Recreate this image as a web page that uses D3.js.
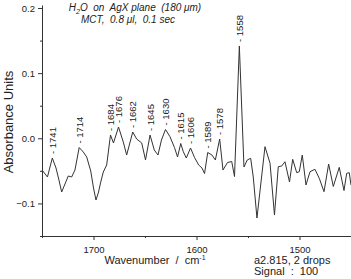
<!DOCTYPE html>
<html>
<head>
<meta charset="utf-8">
<script src="https://cdn.jsdelivr.net/npm/d3@7"></script>
<style>
  body { margin: 0; background: #fff; }
  svg { display: block; font-family: "Liberation Sans", Arial, sans-serif; }
  svg text { white-space: pre; }
  .axis path, .axis line { stroke: #333; }
  .axis text { fill: #222; font-size: 9.5px; }
  .spectrum { fill: none; stroke: #333; stroke-width: 1; }
</style>
</head>
<body>
<script>
// spectrum: wavenumber (cm-1) / absorbance
var wavenumbers = [1750.0, 1744.7, 1740.0, 1736.4, 1734.0, 1730.9, 1727.7, 1724.5, 1721.2, 1718.0,
    1713.9, 1709.9, 1706.6, 1702.7, 1700.0, 1697.6, 1695.1, 1693.2, 1690.5, 1687.2,
    1683.5, 1680.6, 1675.7, 1671.1, 1667.8, 1661.9, 1658.1, 1653.2, 1649.5, 1645.1,
    1641.0, 1637.4, 1634.0, 1630.1, 1625.7, 1621.4, 1618.4, 1615.3, 1612.8, 1609.9,
    1605.8, 1601.9, 1597.9, 1594.7, 1592.2, 1589.1, 1585.0, 1581.7, 1577.5, 1574.3,
    1569.9, 1565.8, 1563.1, 1558.4, 1553.9, 1550.7, 1547.4, 1544.9, 1541.3, 1533.5,
    1528.6, 1524.3, 1520.6, 1517.3, 1514.1, 1509.7, 1506.6, 1502.7, 1500.2, 1497.3,
    1493.7, 1489.8, 1485.0, 1480.8, 1476.2, 1471.7, 1467.2, 1461.4, 1456.8, 1454.2,
    1451.7, 1450.0];
var absorbance = [-0.0487, -0.0594, -0.0303, -0.0456, -0.0610, -0.0825, -0.0702, -0.0579, -0.0594, -0.0487,
    -0.0142, -0.0211, -0.0287, -0.0502, -0.0763, -0.0948, -0.0825, -0.0687, -0.0518, -0.0410,
    0.0050, -0.0072, 0.0173, -0.0057, -0.0257, 0.0096, -0.0011, -0.0072, -0.0333, 0.0050,
    -0.0180, -0.0257, -0.0026, 0.0135, 0.0024, -0.0142, -0.0287, -0.0080, -0.0206, -0.0303,
    -0.0149, -0.0295, -0.0410, -0.0456, -0.0541, -0.0218, -0.0257, -0.0333, -0.0011, -0.0487,
    -0.0372, -0.0357, -0.0587, 0.1417, -0.0441, -0.0333, -0.0307, -0.0594, -0.1224, -0.0129,
    -0.0384, -0.1178, -0.0436, -0.0426, -0.0360, -0.0671, -0.0323, -0.0528, -0.0513, -0.0257,
    -0.0717, -0.0513, -0.0476, -0.0614, -0.0820, -0.0395, -0.0740, -0.0446, -0.0802, -0.0538,
    -0.0528, -0.0717];

// labelled peaks
var peakLabels = ["1741", "1714", "1684", "1676", "1662", "1645", "1630", "1615", "1606", "1589", "1578", "1558"];
var peakIndex = [2, 10, 20, 22, 25, 29, 33, 37, 40, 45, 48, 53];

var xMajorTicks = [1700, 1600, 1500];
var xMinorTicks = [1750, 1650, 1550, 1450];
var yMajorTicks = [0.2, 0.1, 0.0, -0.1];
var yMinorTicks = [0.15, 0.05, -0.05, -0.15];

var margin = {top: 5, right: 0, bottom: 43, left: 42},
    width = 351 - margin.left - margin.right,
    height = 279 - margin.top - margin.bottom;

var data = wavenumbers.map(function (w, i) { return {wn: w, a: absorbance[i]}; });

var svg = d3.select("body").append("svg")
    .attr("width", width + margin.left + margin.right)
    .attr("height", height + margin.top + margin.bottom)
    .append("g")
    .attr("transform", "translate(" + margin.left + "," + margin.top + ")");

var x = d3.scaleLinear().domain([1750, 1450]).range([0, width]);
var y = d3.scaleLinear().domain([-0.15, 0.2046]).range([height, 0]);

// axes: minor ticks first, then the labelled ones
svg.append("g")
    .attr("class", "axis")
    .attr("transform", "translate(0," + height + ")")
    .call(d3.axisBottom(x).tickValues(xMinorTicks).tickSize(2).tickFormat(""))
    .select(".domain").remove();
svg.append("g")
    .attr("class", "axis")
    .attr("transform", "translate(0," + height + ")")
    .call(d3.axisBottom(x).tickValues(xMajorTicks).tickSize(4).tickSizeOuter(0).tickPadding(6)
        .tickFormat(d3.format("d")));

svg.append("g")
    .attr("class", "axis")
    .call(d3.axisLeft(y).tickValues(yMinorTicks).tickSize(2).tickFormat(""))
    .select(".domain").remove();
svg.append("g")
    .attr("class", "axis")
    .call(d3.axisLeft(y).tickValues(yMajorTicks).tickSize(4).tickSizeOuter(0).tickPadding(3)
        .tickFormat(d3.format(".1f")));

var line = d3.line()
    .x(function (d) { return x(d.wn); })
    .y(function (d) { return y(d.a); });

svg.append("path")
    .datum(data)
    .attr("class", "spectrum")
    .attr("d", line);

// peak labels, rotated
svg.selectAll(".peak")
    .data(peakIndex)
    .enter().append("text")
    .attr("class", "peak")
    .attr("transform", function (d) {
        return "translate(" + (x(data[d].wn) + 3.5) + "," + (y(data[d].a) - 4) + ") rotate(-90)";
    })
    .style("font-size", "9.5px")
    .style("fill", "#222")
    .text(function (d, i) { return "- " + peakLabels[i]; });

// titles
var title = svg.append("text")
    .attr("x", 93)
    .attr("y", 6)
    .attr("text-anchor", "middle")
    .style("font-size", "10px")
    .style("font-style", "italic")
    .style("fill", "#222");
title.append("tspan").text("H");
title.append("tspan").attr("dy", 2.5).style("font-size", "7px").text("2");
title.append("tspan").attr("dy", -2.5).text("O  on  AgX plane  (180 \u03bcm)");

svg.append("text")
    .attr("x", 86)
    .attr("y", 17.5)
    .attr("text-anchor", "middle")
    .style("font-size", "10px")
    .style("font-style", "italic")
    .style("fill", "#222")
    .text("MCT,  0.8 \u03bcl,  0.1 sec");

svg.append("text")
    .attr("transform", "translate(" + (-29) + "," + 117 + ") rotate(-90)")
    .attr("text-anchor", "middle")
    .style("font-size", "13px")
    .style("fill", "#222")
    .text("Absorbance Units");

var xl = svg.append("text")
    .attr("x", 113)
    .attr("y", 259)
    .attr("text-anchor", "middle")
    .style("font-size", "11px")
    .style("fill", "#222");
xl.append("tspan").text("Wavenumber  /  cm");
xl.append("tspan").attr("dy", -4).style("font-size", "7px").text("-1");

svg.append("text")
    .attr("x", 212)
    .attr("y", 259)
    .style("font-size", "11px")
    .style("fill", "#222")
    .text("a2.815, 2 drops");
svg.append("text")
    .attr("x", 212)
    .attr("y", 270)
    .style("font-size", "11px")
    .style("fill", "#222")
    .text("Signal  :  100");
</script>
</body>
</html>
